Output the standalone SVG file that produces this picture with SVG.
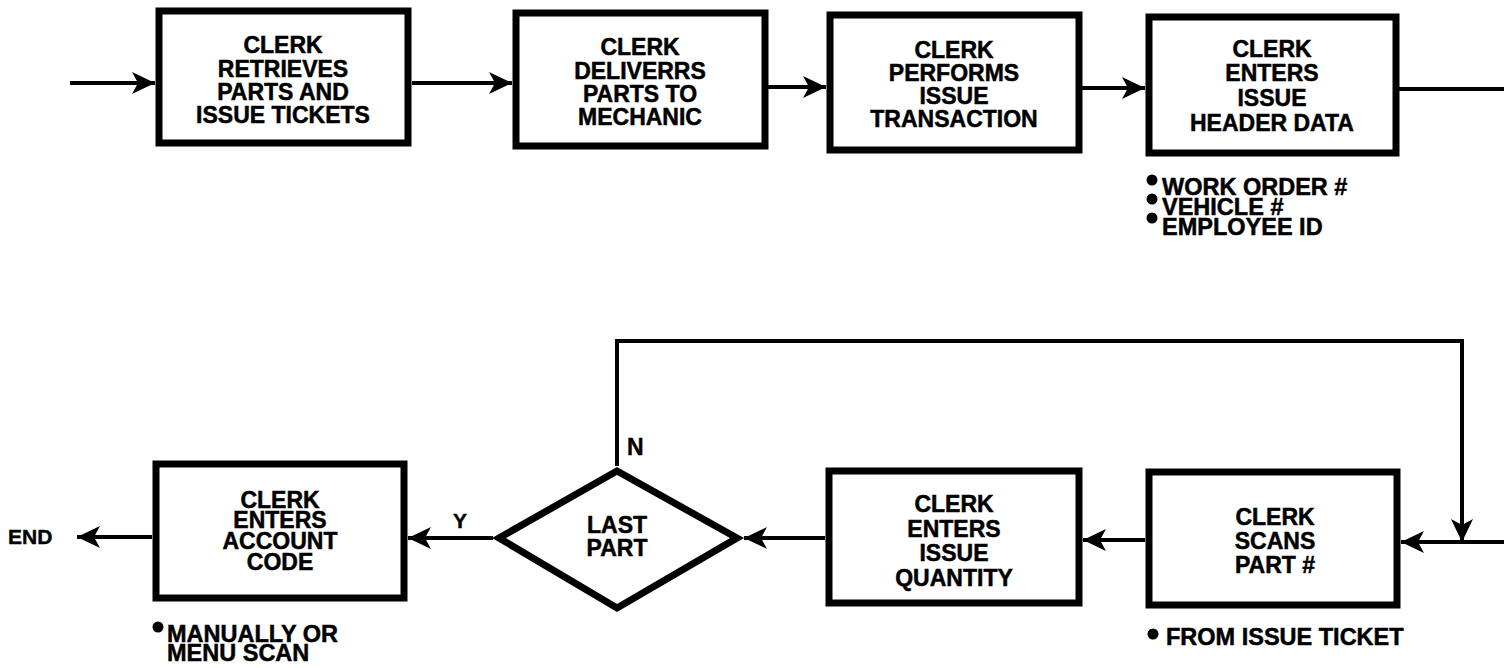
<svg xmlns="http://www.w3.org/2000/svg" width="1504" height="668" viewBox="0 0 1504 668">
<defs>
<style>
.box{fill:#fff;stroke:#000;stroke-width:7;stroke-linejoin:miter}
.t{font-family:"Liberation Sans",Arial,Helvetica,sans-serif;font-weight:bold;font-size:23px;fill:#000;stroke:#000;stroke-width:0.5;text-anchor:middle}
.b{font-family:"Liberation Sans",Arial,Helvetica,sans-serif;font-weight:bold;font-size:23.5px;fill:#000;stroke:#000;stroke-width:0.5}
.l{font-family:"Liberation Sans",Arial,Helvetica,sans-serif;font-weight:bold;font-size:21px;fill:#000;stroke:#000;stroke-width:0.4}
.c{fill:none;stroke:#000;stroke-width:4}
.a{marker-end:url(#arr)}
</style>
<marker id="arr" viewBox="-26 -13 28 26" markerWidth="28" markerHeight="26" refX="0" refY="0" orient="auto" markerUnits="userSpaceOnUse">
<path d="M0,0 L-23,-11 L-17,0 L-23,11 Z" fill="#000"/>
</marker>
</defs>
<rect width="1504" height="668" fill="#fff"/>

<g id="connectors">
<path class="c a" d="M70,83 H155"/>
<path class="c a" d="M412,83 H512"/>
<path class="c a" d="M768,87 H826"/>
<path class="c a" d="M1082,88 H1145"/>
<path class="c" d="M1399,89 H1504"/>
<path class="c a" d="M1504,542 H1401"/>
<path class="c a" d="M617,466 V341 H1462 V542"/>
<path class="c a" d="M1145,540 H1083"/>
<path class="c a" d="M825,538 H744"/>
<path class="c a" d="M493,538 H408"/>
<path class="c a" d="M152,537 H77"/>
<text class="l" x="627" y="455" style="font-size:23px">N</text>
<text class="l" x="453" y="528">Y</text>
</g>

<g id="n1">
<rect class="box" x="159" y="11" width="249" height="132"/>
<text class="t"><tspan x="283" y="53">CLERK</tspan><tspan x="283" y="77">RETRIEVES</tspan><tspan x="283" y="100">PARTS AND</tspan><tspan x="283" y="123">ISSUE TICKETS</tspan></text>
</g>

<g id="n2">
<rect class="box" x="516" y="13" width="249" height="133"/>
<text class="t"><tspan x="640" y="55">CLERK</tspan><tspan x="640" y="79">DELIVERRS</tspan><tspan x="640" y="102">PARTS TO</tspan><tspan x="640" y="125">MECHANIC</tspan></text>
</g>

<g id="n3">
<rect class="box" x="830" y="15" width="249" height="135"/>
<text class="t"><tspan x="954" y="58">CLERK</tspan><tspan x="954" y="81">PERFORMS</tspan><tspan x="954" y="104">ISSUE</tspan><tspan x="954" y="127">TRANSACTION</tspan></text>
</g>

<g id="n4">
<rect class="box" x="1149" y="17" width="247" height="136"/>
<text class="t"><tspan x="1272" y="57">CLERK</tspan><tspan x="1272" y="81">ENTERS</tspan><tspan x="1272" y="106">ISSUE</tspan><tspan x="1272" y="131">HEADER DATA</tspan></text>
<circle cx="1152" cy="180" r="5.5"/>
<circle cx="1152" cy="199" r="5.5"/>
<circle cx="1152" cy="218" r="5.5"/>
<text class="b"><tspan x="1162" y="195">WORK ORDER #</tspan><tspan x="1162" y="215">VEHICLE #</tspan><tspan x="1162" y="235">EMPLOYEE ID</tspan></text>
</g>

<g id="n7">
<rect class="box" x="1149" y="472" width="248" height="133"/>
<text class="t"><tspan x="1275" y="525">CLERK</tspan><tspan x="1275" y="549">SCANS</tspan><tspan x="1275" y="573">PART #</tspan></text>
<circle cx="1153" cy="634" r="5.5"/>
<text class="b" x="1166" y="645">FROM ISSUE TICKET</text>
</g>

<g id="n6">
<rect class="box" x="829" y="471" width="250" height="132"/>
<text class="t"><tspan x="954" y="512">CLERK</tspan><tspan x="954" y="537">ENTERS</tspan><tspan x="954" y="561">ISSUE</tspan><tspan x="954" y="586">QUANTITY</tspan></text>
</g>

<g id="n5">
<polygon class="box" points="499,538 617,471 737,538 617,608"/>
<text class="t"><tspan x="617" y="533">LAST</tspan><tspan x="617" y="556">PART</tspan></text>
</g>

<g id="n8">
<rect class="box" x="156" y="464" width="248" height="134"/>
<text class="t"><tspan x="280" y="508">CLERK</tspan><tspan x="280" y="528">ENTERS</tspan><tspan x="280" y="549">ACCOUNT</tspan><tspan x="280" y="570">CODE</tspan></text>
<circle cx="158" cy="627" r="5.5"/>
<text class="b"><tspan x="167" y="642">MANUALLY OR</tspan><tspan x="167" y="661">MENU SCAN</tspan></text>
</g>

<g id="end">
<text class="l" x="8" y="544">END</text>
</g>
</svg>
